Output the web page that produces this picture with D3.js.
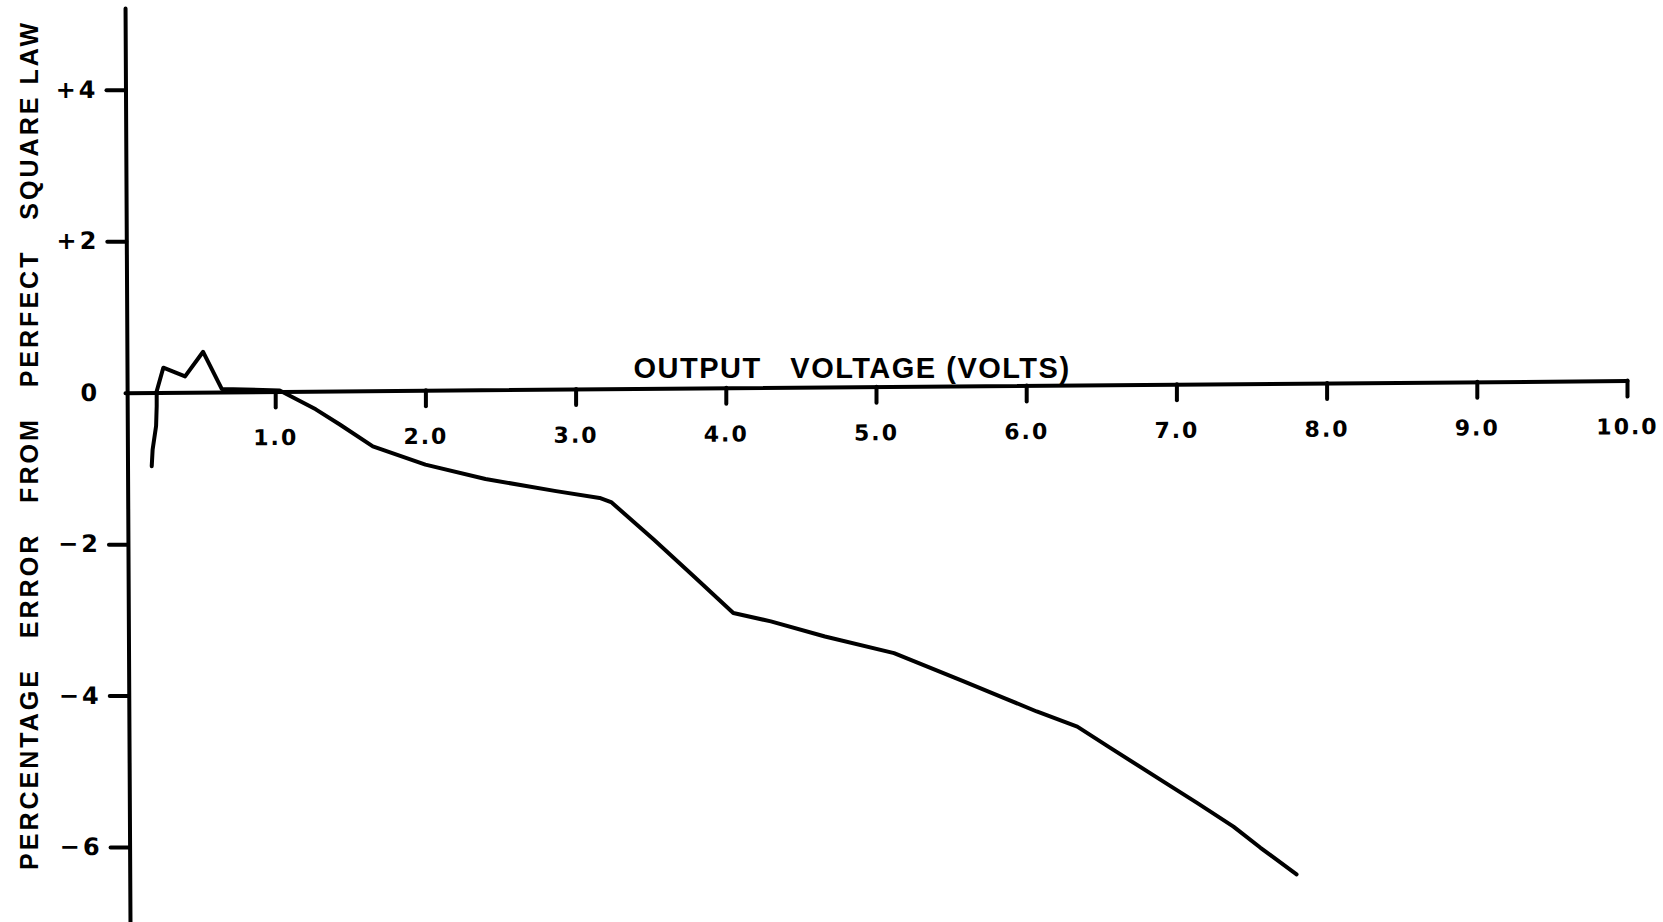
<!DOCTYPE html>
<html>
<head>
<meta charset="utf-8">
<script src="https://cdn.jsdelivr.net/npm/d3@7"></script>
<style>
    html, body { margin: 0; padding: 0; background: #fff; }
    svg { display: block; }
    .axis path, .axis line { stroke: #000; stroke-width: 4; stroke-linecap: round; }
    .axis text { font-family: "DejaVu Sans", sans-serif; font-weight: bold; fill: #000; }
    .title { font-family: "Liberation Sans", "DejaVu Sans", sans-serif; font-weight: bold; fill: #000; white-space: pre; }
</style>
</head>
<body>
<div id="chart"></div>
<script>
// values
var voltage = [0.178, 0.184, 0.207, 0.211, 0.211, 0.255, 0.40, 0.52, 0.644, 1.03,
    1.27, 1.43, 1.65, 2.0, 2.40, 2.87, 3.16, 3.24, 3.52, 3.79, 4.05, 4.30, 4.66,
    5.12, 5.58, 5.85, 6.07, 6.34, 6.56, 6.94, 7.14, 7.38, 7.56, 7.80];
var errorPct = [-0.97, -0.75, -0.44, -0.18, 0.02, 0.33, 0.215, 0.54, 0.05, 0.03,
    -0.22, -0.42, -0.71, -0.95, -1.14, -1.30, -1.39, -1.45, -1.94, -2.43, -2.91, -3.02, -3.22,
    -3.44, -3.81, -4.03, -4.21, -4.41, -4.69, -5.17, -5.42, -5.73, -6.01, -6.36];

var xTicks = [1, 2, 3, 4, 5, 6, 7, 8, 9, 10];
var xTickLabels = ["1.0", "2.0", "3.0", "4.0", "5.0", "6.0", "7.0", "8.0", "9.0", "10.0"];
var yTicks = [4, 2, 0, -2, -4, -6];
var yTickLabels = ["+4", "+2", "0", "\u22122", "\u22124", "\u22126"];

var xTitle = "OUTPUT   VOLTAGE (VOLTS)";
var yTitle = "PERCENTAGE   ERROR   FROM   PERFECT   SQUARE LAW";

var width = 1663,
    height = 922;

var svg = d3.select("#chart")
    .append("svg")
    .attr("width", width)
    .attr("height", height);

svg.append("rect")
    .attr("width", width)
    .attr("height", height)
    .attr("fill", "#fff");

var x = d3.scaleLinear()
    .domain([0, 10])
    .range([125, 1627]);

var y = d3.scaleLinear()
    .domain([5.08, -6.99])
    .range([8, 922]);

// y axis (hand drawn one leans a little)
var yAxis = svg.append("g")
    .attr("class", "axis y-axis")
    .attr("transform", "translate(" + x(0) + ",0) skewX(0.31)")
    .call(d3.axisLeft(y)
        .tickValues(yTicks)
        .tickFormat(function (d, i) { return yTickLabels[i]; })
        .tickSize(19)
        .tickSizeOuter(0)
        .tickPadding(8));

yAxis.selectAll(".tick")
    .filter(function (d) { return d === 0; })
    .select("line")
    .remove();

yAxis.selectAll("text")
    .attr("font-size", 24)
    .attr("letter-spacing", 3);

// x axis sits on zero and rises slightly to the right
var xAxis = svg.append("g")
    .attr("class", "axis x-axis")
    .attr("transform", "translate(" + x(0) + "," + y(0) + ") skewY(-0.46) translate(" + (-x(0)) + ",0)")
    .call(d3.axisBottom(x)
        .tickValues(xTicks)
        .tickFormat(function (d, i) { return xTickLabels[i]; })
        .tickSize(16)
        .tickSizeOuter(0)
        .tickPadding(22));

xAxis.selectAll("text")
    .attr("font-size", 22)
    .attr("letter-spacing", 2);

// axis titles
svg.append("text")
    .attr("class", "title")
    .attr("x", 852)
    .attr("y", 378)
    .attr("text-anchor", "middle")
    .attr("font-size", 29)
    .attr("letter-spacing", 1.5)
    .text(xTitle);

svg.append("text")
    .attr("class", "title")
    .attr("transform", "translate(38," + ((23 + 870) / 2) + ") rotate(-90)")
    .attr("text-anchor", "middle")
    .attr("font-size", 25)
    .attr("textLength", 847)
    .attr("lengthAdjust", "spacing")
    .text(yTitle);

// the curve
var points = voltage.map(function (v, i) { return [v, errorPct[i]]; });

svg.append("path")
    .datum(points)
    .attr("fill", "none")
    .attr("stroke", "#000")
    .attr("stroke-width", 4)
    .attr("stroke-linejoin", "round")
    .attr("stroke-linecap", "round")
    .attr("d", d3.line()
        .x(function (d) { return x(d[0]); })
        .y(function (d) { return y(d[1]); }));
</script>
</body>
</html>
